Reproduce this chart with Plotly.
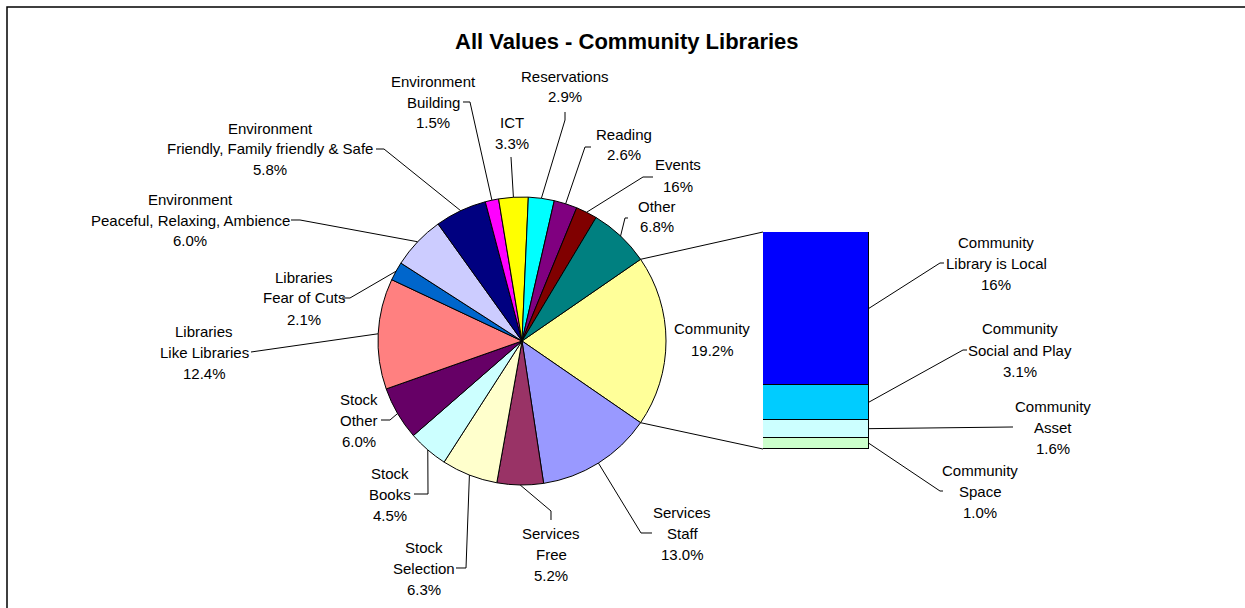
import math
import plotly.graph_objects as go

W, H = 1245, 608

# ---------------- data ----------------
pie_labels = ["Community", "Services Staff", "Services Free", "Stock Selection", "Stock Books",
              "Stock Other", "Libraries Like Libraries", "Libraries Fear of Cuts",
              "Environment Peaceful, Relaxing, Ambience", "Environment Friendly, Family friendly & Safe",
              "Environment Building", "ICT", "Reservations", "Reading", "Events", "Other"]
pie_values = [19.2, 13.0, 5.2, 6.3, 4.5, 6.0, 12.4, 2.1, 6.0, 5.8, 1.5, 3.3, 2.9, 2.6, 2.4, 6.8]
pie_text = [["Community", "19.2%"], ["Services", "Staff", "13.0%"], ["Services", "Free", "5.2%"],
            ["Stock", "Selection", "6.3%"], ["Stock", "Books", "4.5%"], ["Stock", "Other", "6.0%"],
            ["Libraries", "Like Libraries", "12.4%"], ["Libraries", "Fear of Cuts", "2.1%"],
            ["Environment", "Peaceful, Relaxing, Ambience", "6.0%"],
            ["Environment", "Friendly, Family friendly & Safe", "5.8%"],
            ["Environment", "Building", "1.5%"], ["ICT", "3.3%"], ["Reservations", "2.9%"],
            ["Reading", "2.6%"], ["Events", "16%"], ["Other", "6.8%"]]
pie_colors = ["#FFFF99", "#9999FF", "#993366", "#FFFFCC", "#CCFFFF", "#660066", "#FF8080", "#0066CC",
              "#CCCCFF", "#000080", "#FF00FF", "#FFFF00", "#00FFFF", "#800080", "#800000", "#008080"]

bar_labels = ["Community Space", "Community Asset", "Community Social and Play", "Community Library is Local"]
bar_values = [1.0, 1.6, 3.1, 13.5]
bar_text = [["Community", "Space", "1.0%"], ["Community", "Asset", "1.6%"],
            ["Community", "Social and Play", "3.1%"], ["Community", "Library is Local", "16%"]]
bar_colors = ["#CCFFCC", "#CCFFFF", "#00CCFF", "#0000FF"]

title = "All Values - Community Libraries"

# ---------------- layout geometry (pixels) ----------------
CX, CY, R = 522, 341, 144
BX0, BX1, BY0, BY1 = 763, 869, 232, 449

# label layout: (text center x, first line y, leader attach points list)
pie_label_layout = [
    (712, 329, None),
    (682, 512, [(652, 533), (641, 533)]),
    (551, 533, [(551, 520), (551, 511)]),
    (424, 547, [(456, 568), (466, 568)]),
    (390, 473, [(414, 494), (428, 494)]),
    (359, 399, [(381, 420), (390, 420)]),
    (204, 331, [(251, 352)]),
    (304, 277, [(342, 298), (350, 298)]),
    (190, 199, [(291, 220), (300, 220)]),
    (270, 128, [(376, 149), (384, 149)]),
    (433, 81, [(463, 102), (470, 102)]),
    (512, 122, [(511, 157)]),
    (565, 76, [(565, 112), (565, 120)]),
    (624, 134, [(591, 147), (585, 147)]),
    (678, 165, [(653, 177), (643, 177)]),
    (657, 206, [(628, 218), (625, 218)]),
]
bar_label_layout = [
    (980, 470, [(943, 491), (940, 491)]),
    (1053, 406, [(1013, 427)]),
    (1020, 329, [(967, 350), (963, 350)]),
    (996, 242, [(944, 263), (940, 263)]),
]

LINE_H = 21
FONT = "Arial, Liberation Sans, sans-serif"
FS = 15


def px(x):
    return x / W


def py(y):
    return 1 - y / H


fig = go.Figure()

total = sum(pie_values)
rotation = 90 - pie_values[0] / total * 360 / 2

fig.add_trace(go.Pie(
    labels=pie_labels, values=pie_values, sort=False, direction="clockwise",
    rotation=rotation, textinfo="none", hoverinfo="label+percent",
    marker=dict(colors=pie_colors, line=dict(color="black", width=1)),
    domain=dict(x=[px(CX - R), px(CX + R)], y=[py(CY + R), py(CY - R)]),
    showlegend=False,
))

for v, c, n in zip(bar_values, bar_colors, bar_labels):
    fig.add_trace(go.Bar(x=[0], y=[v], width=[1], name=n, marker=dict(color=c, line=dict(color="black", width=1)),
                         xaxis="x", yaxis="y", showlegend=False))

bar_total = sum(bar_values)

shapes = []
annotations = []


def path(points):
    d = "M " + " L ".join(f"{px(x):.5f},{py(y):.5f}" for x, y in points)
    return dict(type="path", path=d, xref="paper", yref="paper", line=dict(color="black", width=1))


def add_text(xc, y0, lines):
    for i, t in enumerate(lines):
        annotations.append(dict(x=px(xc), y=py(y0 + i * LINE_H), xref="paper", yref="paper", text=t,
                                showarrow=False, xanchor="center", yanchor="middle",
                                font=dict(family=FONT, size=FS, color="black")))


# pie labels and leaders
cum = 0.0
for v, txt, (lx, ly, attach) in zip(pie_values, pie_text, pie_label_layout):
    mid = rotation + (cum + v / 2) / total * 360
    cum += v
    a = math.radians(mid)
    ex, ey = CX + R * math.sin(a), CY - R * math.cos(a)
    add_text(lx, ly, txt)
    if attach:
        pts = list(attach) + [(ex, ey)]
        shapes.append(path(pts))

# connectors pie -> bar
for ang, by in [(rotation, BY0), (rotation + pie_values[0] / total * 360, BY1)]:
    a = math.radians(ang)
    ex, ey = CX + R * math.sin(a), CY - R * math.cos(a)
    shapes.append(path([(ex, ey), (BX0, by)]))

# bar labels and leaders
cum = 0.0
for v, txt, (lx, ly, attach) in zip(bar_values, bar_text, bar_label_layout):
    mid = cum + v / 2
    cum += v
    ey = BY1 - (BY1 - BY0) * mid / bar_total
    add_text(lx, ly, txt)
    shapes.append(path(list(attach) + [(BX1, ey)]))

# chart frame
shapes.append(dict(type="rect", xref="paper", yref="paper", x0=px(7), x1=px(1260), y0=py(640), y1=py(7),
                   line=dict(color="black", width=1.5), layer="below"))

annotations.append(dict(x=px(627), y=py(41), xref="paper", yref="paper", text=f"<b>{title}</b>",
                        showarrow=False, xanchor="center", yanchor="middle",
                        font=dict(family=FONT, size=22, color="black")))

fig.update_layout(
    width=W, height=H, autosize=False,
    margin=dict(l=0, r=0, t=0, b=0),
    paper_bgcolor="white", plot_bgcolor="white",
    barmode="stack", bargap=0,
    xaxis=dict(domain=[px(BX0), px(BX1)], range=[-0.5, 0.5], visible=False, fixedrange=True),
    yaxis=dict(domain=[py(BY1), py(BY0)], range=[0, bar_total], visible=False, fixedrange=True),
    shapes=shapes, annotations=annotations,
)

fig.write_html("out.html", config={"displayModeBar": False},
               post_script="document.body.style.margin='0';document.body.style.overflow='hidden';")
